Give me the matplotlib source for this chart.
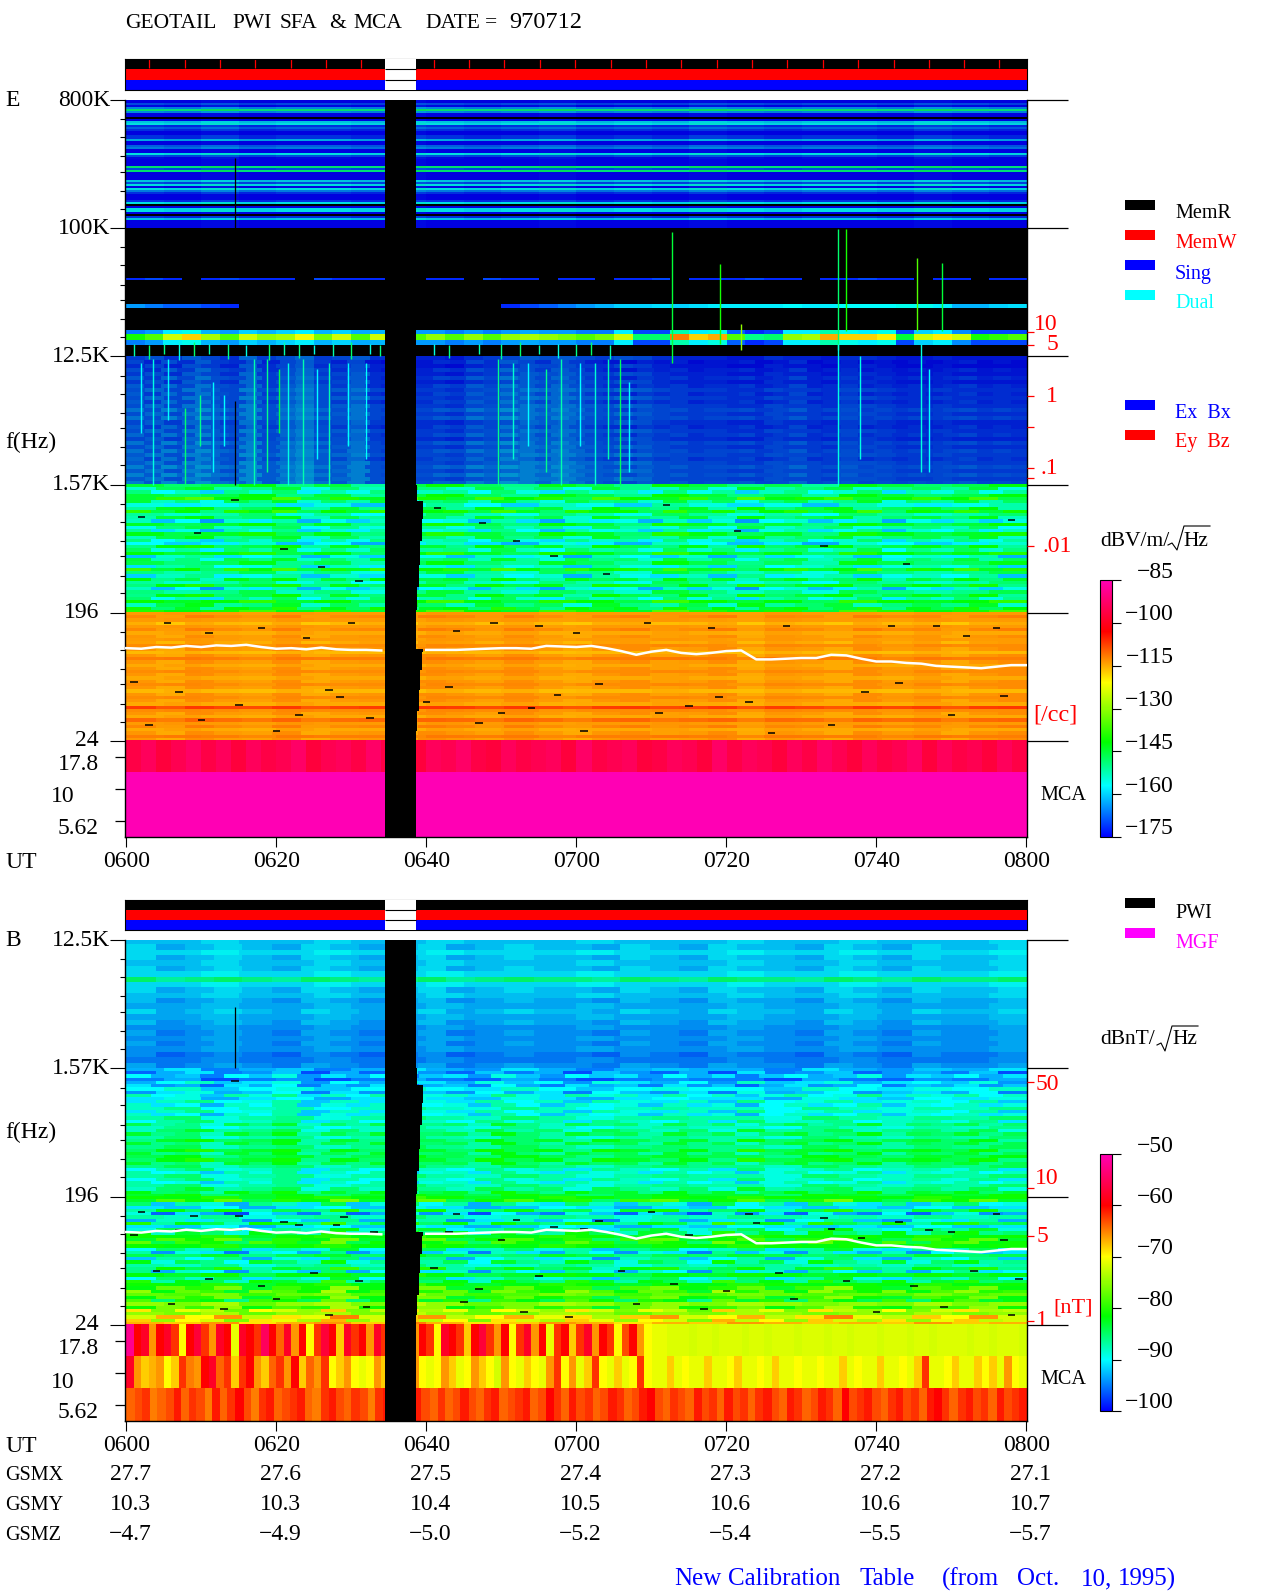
import numpy as np
import matplotlib
matplotlib.use("Agg")
import matplotlib.pyplot as plt
from matplotlib.colors import LinearSegmentedColormap, Normalize
from matplotlib.cm import ScalarMappable

plt.rcParams["font.family"] = ["Liberation Serif", "DejaVu Serif"]
W, H = 1280, 1593
nan = np.nan

# time axis: minutes after 0600
TICK_T = [0, 20, 40, 60, 80, 100, 120]
TICK_LABELS = ["0600", "0620", "0640", "0700", "0720", "0740", "0800"]
GSMX = ["27.7", "27.6", "27.5", "27.4", "27.3", "27.2", "27.1"]
GSMY = ["10.3", "10.3", "10.4", "10.5", "10.6", "10.6", "10.7"]
GSMZ = ["\u22124.7", "\u22124.9", "\u22125.0", "\u22125.2", "\u22125.4", "\u22125.5", "\u22125.7"]
GAP = (34.5, 38.6)
MEMR_TICKS = [3.0, 7.8, 12.5, 17.2, 21.9, 26.6, 31.3, 41.0, 45.7, 50.4, 55.1, 59.8, 64.6,
              69.3, 74.0, 78.7, 83.4, 88.1, 92.9, 97.6, 102.3, 107.0, 111.7, 116.4]

# staircase on the late side of the data gap (band position, end minute)
STAIR_POS = [2.0, 1.87, 1.73, 1.56, 1.37, 1.2, 1.02, 0.9, 0.72, 0.69, 0.55, 0.4, 0.23, 0.08]
STAIR_END = [38.9, 38.8, 39.6, 39.4, 39.2, 39.0, 38.8, 38.6, 38.6, 39.6, 39.4, 39.2, 39.0, 38.8]

# electron density trace, Hz every 2 minutes
TRACE_T = list(range(0, 121, 2))
TRACE_HZ = [108, 107, 110, 109, 112, 110, 113, 112, 114, 110, 107, 108, 106, 109, 106, 105, 105, 104,
            nan, nan, 105, 105, 105, 106, 107, 108, 108, 107, 112, 111, 110, 112, 108, 103, 97, 102, 105,
            100, 98, 100, 103, 104, 90, 90, 91, 92, 92, 97, 96, 91, 87, 87, 85, 84, 81, 80, 79, 78, 80,
            82, 82]

# E panel, dB per row (top to bottom) for each frequency band
E_RF_ROWS = [-176, -176, -170, -175, -165, -150, -165, -176, -176, nan, -176, -160, -158, -172, -168, -172,
             -176, -176, -172, -172, -162, -176, -176, -168, -166, -176, -176, -158, -170, -175, -176, -176,
             -176, -150, -170, -150, -176, -176, -176, -176, -160, -170, -158, -175, -158, -166, -172, -176,
             -176, -176, -172, -158, nan, -176, -158, -158, -176, nan, -172, -160, -176, -176, -176, -176]
E_RF_COLS = [[1, 0, 2, 0, 1, 1, 0, 2, 1, 0, 1, 2, 0, 1, 0, 2, 1, 0, 1, 1, 0, 2, 1, 0]]
E_WAVE_ROWS = [-173, -174, -174, -173, -173, -172, -173, -172, -171, -172, -171, -172, -171, -170, -171, -170,
               -172, -172, -171, -171, -172, -170, -171, -170, -170, -171, -170, -169, -170, -169, -170, -169]
E_WAVE_COLS = [[3, 5, 2, 6, 4, 2, 7, 3, 5, 7, 3, 4, 6, 2, 1, 1, 1, 0, 2, 3, 4, 6, 5, 6, 4, 3, 5, 4, 2, 1, 1, 1,
                0, 0, 2, 1, 1, 0, 2, 2, 1, 0, 0, 1, 0, 0, 0, 0],
               [5, 2, 6, 3, 7, 4, 3, 6, 2, 5, 7, 4, 2, 5, 1, 0, 2, 1, 3, 2, 5, 3, 7, 5, 3, 6, 4, 2, 1, 0, 2, 1,
                2, 0, 1, 1, 2, 0, 1, 3, 0, 1, 2, 0, 1, 0, 1, 0, 1, 2, 0, 1, 0]]
E_LF_ROWS = [-146, -150, -154, -146, -141, -150, -156, -147, -143, -152, -148, -158, -145, -152, -156,
             -144, -149, -154, -158, -146, -152, -143, -157, -150, -147, -155, -142, -150, -156, -147,
             -152, -145, -158, -150, -146, -153, -142, -149, -145, -140]
E_LF_COLS = [[1, -2, 0, 4, -3, 1, -5, 0, 5, -1, -4, 3, 0, -4, 5, 1, -3, 0, -5, 4, 1, -2, 0, 4],
             [-4, 3, 6, -2, 0, 5, -5, 2, -3, 6, 1, -4, 4, -1, 2, -6, 5, 0, -3, 3, -5, 6, -2, 1, 4, -4, 0, 3, -1, 5, -5],
             [5, -3, 1, -6, 4, 0, 6, -4, 2, -2, 5, -5, 1, 3, -3, 6, -1, -5, 4, 0, 2, -4, 5, -2, 3, -6, 1, 4, -3, 0, 6, -5, 2, -1, 5, -2, 3]]
E_VLF_ROWS = [-114, -113, -114, -116, -114, -113, -115, -114, -114, -115, -113, -114, -116, -114,
              -112, -114, -115, -114, -113, -114, -115, -114, -113, -114, -116, -114, -113, -114,
              -115, -108, -113, -114, -115, -111, -114, -113, -115, -114, -112, -114]
E_VLF_COLS = [[0, 0.5, 0, -0.5, 0.5, 0, 0, -0.5, 0.5, 0, 0.5, -0.5, 0, 0, 0.5, 0, -0.5, 0.5, 0, 0, -0.5, 0.5, 0, 0],
              [0.5, -1, 1, 0, -0.5, 1, -1, 0, 0.5, -1, 1, 0.5, -0.5, 1, 0, -1, 0.5, 1, -0.5, 0, 1, -1, 0.5, 0, -1, 1, 0, 0.5, -1, 0.5, 1]]
E_MCA_TOP = [-96, -94, -97, -95, -93, -96, -94, -97, -94, -96, -95, -93, -97, -95, -94, -96, -93, -96,
             -95, -97, -94, -95, -93, -96, -97, -94, -96, -95, -94, -97, -93, -96, -95, -94, -97, -96,
             -94, -95, -97, -93, -96, -94, -95, -97, -94, -96, -93, -95, -97, -94, -96, -95, -93, -97,
             -94, -96, -95, -97, -94, -96]
E_MCA_MID = [-85.0]
E_MCA_LOW = [-85.0]

# E panel 100K-12.5K: weak lines and the plasma line, one value per 2.5 minutes
LINE_43K = [-172, -170, -172, nan, -172, -170, -172, -172, -172, nan, -170, -172, -172, -172, nan, nan,
            -172, -172, nan, -170, -172, -172, nan, -172, -172, nan, -172, -172, -170, nan, -172, -172,
            -172, -170, -172, -172, nan, -172, -172, -170, -172, -172, nan, -172, -172, nan, -172, -172]
LINE_27K = [-164, -166, -168, -168, -170, -172, nan, nan, nan, nan, nan, nan, nan, nan, nan, nan,
            nan, nan, nan, nan, -172, -170, -168, -166, -164, -162, -160, -160, -159, -160, -159, -158,
            -158, -158, -158, -157, -158, -158, -157, -157, -157, -156, -156, -158, -162, -162, -160, -159]
PLASMA_CORE = [-140, -135, -125, -118, -128, -135, -125, -130, -128, -122, -132, -125, -135, -125, -135, -135,
               -130, -135, -130, -135, -130, -128, -130, -132, -135, -132, -125, -148, -148, -112, -118, -115,
               -135, -150, -148, -130, -128, -115, -118, -118, -120, -145, -125, -120, -125, -140, -138, -135]
PLASMA_HALO = [-166, -164, -158, -156, -162, -164, -160, -162, -160, -158, -162, -160, -163, -162, -164, -164,
               -164, -166, -164, -166, -164, -163, -164, -164, -166, -166, -158, -170, -170, -152, -158, -155,
               -168, -172, -170, -158, -158, -152, -156, -158, -156, -170, -160, -158, -165, -170, -170, -170]

# vertical bursts: minute, top and bottom band position, dB
BURST_T = [72.8, 79.2, 94.9, 95.9, 105.4, 108.7, 82.0, 94.9, 97.8, 106.0,
           3.6, 7.8, 9.8, 17.0, 18.7, 20.3, 21.6, 23.6, 25.4, 27.0, 2.0, 5.5, 11.5, 13.0, 29.5, 32.0,
           49.5, 51.5, 53.5, 56.0, 58.0, 60.5, 62.5, 64.2, 65.8, 67.0, 107.0,
           1.0, 3.0, 5.0, 7.0, 9.0, 11.0, 13.5, 16.0, 19.0, 21.0, 23.0, 25.0, 27.5, 30.0, 32.5, 33.8,
           41.0, 43.0, 47.0, 50.0, 52.5, 55.0, 57.5, 60.0, 62.0, 64.5]
BURST_TOP = [3.97, 3.72, 3.99, 3.99, 3.77, 3.73, 3.25, 3.1, 3.0, 3.1,
             2.98, 2.6, 2.7, 2.98, 2.98, 2.9, 2.95, 2.98, 2.9, 2.95, 2.95, 2.98, 2.8, 2.7, 2.95, 2.95,
             2.98, 2.95, 2.95, 2.9, 2.98, 2.95, 2.95, 2.98, 2.98, 2.8, 2.9,
             3.1, 3.09, 3.1, 3.12, 3.11, 3.1, 3.1, 3.09, 3.1, 3.11, 3.1, 3.09, 3.1, 3.11, 3.1, 3.09,
             3.1, 3.09, 3.1, 3.1, 3.11, 3.09, 3.1, 3.1, 3.11, 3.09]
BURST_BOT = [2.95, 3.1, 3.05, 3.2, 3.2, 3.2, 3.05, 2.0, 2.2, 2.1,
             2.0, 2.0, 2.3, 2.0, 2.1, 2.4, 2.0, 2.0, 2.2, 2.0, 2.4, 2.5, 2.1, 2.3, 2.3, 2.2,
             2.0, 2.2, 2.3, 2.1, 2.0, 2.3, 2.0, 2.2, 2.0, 2.1, 2.1,
             3.0, 2.98, 3.02, 2.97, 3.0, 3.02, 2.98, 3.0, 2.97, 3.01, 2.99, 3.02, 3.0, 2.98, 3.02, 3.0,
             3.01, 2.99, 3.02, 2.98, 3.0, 3.02, 2.99, 3.0, 3.01, 2.98]
BURST_DB = [-145, -140, -148, -140, -135, -145, -130, -155, -155, -155,
            -155, -148, -150, -152, -150, -146, -155, -152, -157, -152, -157, -157, -157, -157, -157, -157,
            -150, -154, -157, -150, -152, -157, -154, -152, -147, -157, -157,
            -152, -148, -150, -155, -148, -152, -150, -155, -148, -152, -150, -155, -152, -148, -155, -150,
            -155, -150, -152, -150, -148, -152, -155, -150, -148, -152]

E_DASH_T = [14.5, 2.0, 9.5, 21.0, 26.0, 31.0, 41.5, 47.5, 52.0, 57.0, 64.0, 72.0, 81.5, 93.0, 104.0, 118.0,
            5.5, 11.0, 18.0, 24.0, 30.0, 44.0, 49.0, 55.0, 60.0, 69.5, 78.0, 88.0, 102.0, 108.0, 112.0, 116.0,
            1.0, 7.0, 15.0, 23.0, 28.5, 43.0, 50.0, 57.5, 63.0, 75.0, 83.0, 94.0, 98.5, 103.0, 110.0, 117.0,
            3.0, 10.0, 20.0, 27.0, 32.5, 40.0, 47.0, 54.0, 61.0, 71.0, 79.0, 86.0]
E_DASH_POS = [1.88, 1.75, 1.62, 1.5, 1.36, 1.25, 1.82, 1.7, 1.56, 1.44, 1.3, 1.84, 1.64, 1.52, 1.38, 1.72,
              0.92, 0.84, 0.88, 0.8, 0.92, 0.86, 0.92, 0.9, 0.84, 0.92, 0.88, 0.9, 0.9, 0.9, 0.82, 0.88,
              0.46, 0.38, 0.28, 0.2, 0.34, 0.42, 0.22, 0.36, 0.44, 0.27, 0.3, 0.12, 0.38, 0.45, 0.2, 0.35,
              0.12, 0.16, 0.08, 0.4, 0.18, 0.3, 0.14, 0.26, 0.08, 0.22, 0.34, 0.06]

# B panel
B_WAVE_ROWS = [-92, -92, -91, -92, -92, -92, -91, -86, -91, -92, -92, -93, -93, -92, -93, -93, -94, -94, -94, -94,
               -94, -95, -95, -94]
B_WAVE_COLS = [[0, 0, 1, 0, 0, 1, 0, 0, 1, 0, 0, 0, 1, 0, 0, 0, 1, 0, 0, 1, 0, 0, 0, 1],
               [1, -1, 0, 1, 0, -1, 1, 0, -1, 0, 1, -1, 0, 1, 0, 0, -1, 1, 0, -1, 1, 0, 0, -1, 1, 0, -1, 1, 0, 0, 1]]
B_LF_ROWS = [-93, -94, -92, -95, -91, -93, -90, -92, -89, -91, -89, -90, -88, -89, -90, -87, -88, -86, -88, -86,
             -85, -87, -84, -85, -86, -83, -85, -84, -83, -85, -86, -88, -89, -87, -88, -89, -87, -86, -84, -83]
B_LF_COLS = [[0, 2, -2, 0, 1, -2, 0, 2, 0, -1, 2, 0, -2, 0, 1, 0, 0, -2, 2, 0, -1, 1, 0, 2],
             [-2, 1, 3, -1, 0, 2, -3, 1, -2, 3, 0, -2, 2, -1, 1, -3, 2, 0, -2, 1, -3, 3, -1, 0, 2, -2, 0, 1, -1, 2, -3],
             [2, -1, 0, -3, 2, 0, 3, -2, 1, -1, 2, -3, 0, 1, -2, 3, 0, -2, 2, 0, 1, -2, 2, -1, 1, -3, 0, 2, -1, 0, 3, -2, 1, 0, 2, -1, 1]]
B_VLF_ROWS = [-82, -81, -89, -92, -85, -93, -88, -91, -84, -92, -87, -85, -82, -81, -81, -82, -88, -91, -85, -90,
              -86, -88, -84, -90, -83, -88, -84, -82, -80, -79, -78, -80, -82, -76, -79, -73, -76, -70, -72, -68]
B_VLF_COLS = [[1, 0, 2, -1, 1, 2, 0, 3, 1, -1, 0, 2, 1, -1, 1, 0, 2, 1, 0, 1, 0, 2, 0, 1],
              [-2, 3, 0, 4, -3, 1, -1, 5, -2, 2, 4, -3, 0, 3, -1, 1, -4, 2, 4, -2, 0, 3, -3, 1, 5, -1, -3, 2, 0, 4, -2],
              [4, -3, 2, 0, -4, 3, 1, -2, 5, -3, 0, 4, -1, 2, -4, 3, 0, -2, 4, 1, -3, 2, 0, -4, 5, -1, 2, -3, 4, 0, -2, 3, -3, 1, 4, -1, 0]]
B_MCA_TOP = [-52, -60, -58, -66, -60, -58, -62, -70, -60, -57, -62, -66, -58, -60, -71, -58, -60, -62, -55, -60,
             -64, -58, -66, -60, -70, -62, -57, -60, -68, -58, -62, -60, -66, -58, -62, -70, -60, -58, -66, -60,
             -62, -70, -58, -60, -62, -68, -60, -57, -62, -66, -60, -70, -62, -58, -66, -60, -71, -62, -60, -68,
             -62, -58, -66, -60, -62, -70, -63, -60, -66, -70, -71, -71, -71.5, -71.5, -71.5, -72, -71.5, -71.5, -72, -71.5,
             -71.5, -71.5, -72, -71.5, -71.5, -72, -71.5, -71.5, -71.5, -72, -71.5, -71.5, -71.5, -72, -71.5, -71.5, -72, -71.5, -71.5, -71.5,
             -72, -71.5, -71.5, -71.5, -72, -71.5, -71.5, -72, -71.5, -71.5, -71.5, -71.5, -72, -71.5, -71.5, -72, -71.5, -71.5, -71.5, -72]
B_MCA_MID = [-58, -66, -68, -67, -66, -70, -68, -62, -65, -66, -60, -58, -64, -62, -68, -62, -60, -66, -68, -64,
             -62, -66, -60, -68, -64, -66, -62, -70, -68, -66, -70, -71, -70, -66, -68, -70, -70, -68, -66, -70,
             -71, -70, -66, -68, -71, -70, -66, -68, -70, -72, -66, -70, -71, -68, -70, -71, -66, -62, -70, -66,
             -71, -68, -62, -70, -71, -68, -71, -70, -62, -70, -71, -71, -68, -71, -70, -71, -71, -68, -71, -71,
             -70, -68, -71, -71, -70, -71, -68, -71, -71, -70, -71, -71, -70, -71, -71, -68, -71, -70, -71, -71,
             -68, -71, -71, -70, -71, -68, -62, -71, -71, -70, -68, -71, -71, -68, -70, -68, -71, -66, -70, -71]
B_MCA_LOW = [-64, -63, -62, -65, -64, -63, -61, -64, -62, -63, -65, -61, -64, -62, -60, -63, -65, -62, -61, -64,
             -63, -62, -61, -64, -65, -62, -61, -63, -64, -62, -63, -65, -62, -61, -63, -64, -62, -61, -63, -64,
             -62, -64, -63, -61, -63, -64, -62, -61, -64, -63, -62, -61, -64, -63, -60, -62, -64, -61, -63, -62,
             -64, -63, -61, -62, -64, -63, -61, -60, -63, -64, -62, -63, -64, -61, -63, -62, -64, -61, -63, -62,
             -64, -62, -61, -63, -64, -61, -62, -64, -63, -61, -62, -64, -60, -63, -62, -61,
             -63, -64, -62, -61, -63, -62, -64, -61, -60, -62, -64, -62, -61, -63, -62, -64, -61, -63, -62, -61]
B_DASH_T = [14.5, 2.0, 9.0, 21.0, 28.0, 33.0, 44.0, 52.0, 61.0, 70.0, 84.0, 93.0, 107.0, 116.0,
            1.0, 7.0, 15.0, 23.0, 29.0, 43.0, 50.0, 57.0, 63.0, 75.0, 83.0, 94.0, 98.0, 103.0, 110.0, 117.0,
            4.0, 11.0, 18.0, 25.0, 31.0, 41.0, 47.0, 55.0, 66.0, 73.0, 80.0, 87.0, 96.0, 105.0, 113.0, 119.0,
            6.0, 13.0, 20.0, 27.0, 32.0, 45.0, 53.0, 59.0, 68.0, 77.0, 89.0, 100.0, 109.0, 118.0]
B_DASH_POS = [1.9, 0.88, 0.85, 0.8, 0.78, 0.72, 0.86, 0.82, 0.75, 0.88, 0.79, 0.83, 0.74, 0.86,
              0.7, 0.74, 0.85, 0.78, 0.84, 0.72, 0.66, 0.76, 0.81, 0.7, 0.86, 0.75, 0.68, 0.8, 0.72, 0.66,
              0.42, 0.36, 0.3, 0.4, 0.34, 0.44, 0.28, 0.38, 0.42, 0.32, 0.26, 0.4, 0.34, 0.3, 0.42, 0.36,
              0.16, 0.12, 0.2, 0.08, 0.14, 0.18, 0.1, 0.06, 0.16, 0.12, 0.2, 0.1, 0.14, 0.08]

# red density scales (band position on the panel axis)
E_DENS_POS = [3.19, 3.09, 2.69, 2.45, 2.13, 2.05, 1.52]
E_DENS_TXT = [("10", 1058, 322), ("5", 1058, 343), ("1", 1058, 395), (".1", 1058, 467), (".01", 1072, 545)]
B_DENS_POS = [1.89, 1.07, 0.69, 0.03]
B_DENS_TXT = [("50", 1059, 1082), ("10", 1059, 1177), ("5", 1048, 1235), ("1", 1048, 1319)]

E_CB_TICKS = [-85, -100, -115, -130, -145, -160, -175]
B_CB_TICKS = [-50, -60, -70, -80, -90, -100]
MINOR_FRAC = [0.15, 0.29, 0.44, 0.56, 0.71, 0.85]

CMAP = LinearSegmentedColormap.from_list("pwi", [
    (0.0, "#0000ff"), (0.2, "#00ffff"), (0.37, "#00ff00"), (0.6, "#ffff00"),
    (0.8, "#ff0000"), (1.0, "#ff00b4")], N=256)
CMAP.set_bad("black")
N_COLS = 720


def px_axes(fig, x0, y0, x1, y1):
    return fig.add_axes([x0 / W, 1 - y1 / H, (x1 - x0) / W, (y1 - y0) / H])


def band(rows, col_sets, extent, ax, norm, alpha=1.0):
    # every row takes its column offsets from one of the sets in turn
    arr = np.zeros((len(rows), N_COLS))
    for i, r in enumerate(rows):
        cols = np.array(col_sets[i % len(col_sets)], dtype=float)
        arr[i] = r + cols[np.arange(N_COLS) * len(cols) // N_COLS]
    ax.imshow(arr, extent=extent, origin="upper", aspect="auto", cmap=CMAP, norm=norm,
              interpolation="nearest", alpha=alpha)


def strip(values, y0, y1, ax, norm):
    arr = np.ma.masked_invalid(np.array(values, dtype=float)[None, :])
    cm = CMAP.copy()
    cm.set_bad((0, 0, 0, 0))
    ax.imshow(arr, extent=(0, 120, y0, y1), origin="upper", aspect="auto", cmap=cm, norm=norm,
              interpolation="nearest")


def dens_pos(hz):
    return np.log2(np.array(hz, dtype=float) / 24.0) / 3.0


def draw_common(ax, ytop):
    ax.set_xlim(-0.17, 120.03)
    ax.set_ylim(-0.75, ytop)
    ax.set_facecolor("black")
    # data gap with its staircase
    ax.fill_betweenx([-0.75, ytop], GAP[0], GAP[1], color="black", zorder=5, lw=0)
    ax.fill_betweenx(STAIR_POS, GAP[0], STAIR_END, color="black", zorder=5, lw=0, step="pre")
    ax.plot(TRACE_T, dens_pos(TRACE_HZ), color="white", lw=1.8, zorder=6)
    ax.set_xticks(TICK_T)
    ax.set_xticklabels(TICK_LABELS, fontsize=17)
    ax.tick_params(axis="x", length=7.2, width=0.8, pad=3)
    major = list(range(0, int(ytop) + 1))
    ax.set_yticks(major)
    ax.set_yticklabels([])
    minor = [m + f for m in major[:-1] for f in MINOR_FRAC]
    ax.set_yticks(minor, minor=True)
    ax.tick_params(axis="y", which="major", length=10.8, width=0.8)
    ax.tick_params(axis="y", which="minor", length=3.6, width=0.8)
    ax.hlines(major, 120.03, 125.5, color="black", lw=0.9, clip_on=False, zorder=7)
    ax.hlines([-0.125, -0.375, -0.625], -1.5, -0.17, color="black", lw=0.9, clip_on=False)
    ax.spines["top"].set_visible(False)
    for s in ["left", "right", "bottom"]:
        ax.spines[s].set_linewidth(1.0)


def status_bars(fig, y0, y1, with_ticks):
    ax = px_axes(fig, 125, y0, 1026.5, y1)
    ax.set_xlim(-0.17, 120.03)
    ax.set_ylim(0, 3)
    ax.barh([2.5, 1.5, 0.5], 120.3, left=-0.17, height=1, color=["black", "red", "#0000ff"], lw=0)
    ax.barh([1.5], GAP[1] - GAP[0], left=GAP[0], height=3, color="white", lw=0, zorder=3)
    ax.hlines([1, 2], GAP[0], GAP[1], color="black", lw=0.8, zorder=4)
    if with_ticks:
        ax.vlines(MEMR_TICKS, 2.15, 3, color="red", lw=0.9)
    ax.set_xticks([])
    ax.set_yticks([])
    for s in ax.spines.values():
        s.set_linewidth(0.8)


def colorbar(fig, y0, y1, vmin, vmax, ticks):
    cax = px_axes(fig, 1100, y0, 1112, y1)
    cb = fig.colorbar(ScalarMappable(Normalize(vmin, vmax), CMAP), cax=cax)
    cb.set_ticks(ticks)
    cb.set_ticklabels([])
    cax.tick_params(axis="y", length=6.5, width=0.8)
    cb.outline.set_linewidth(0.8)


fig = plt.figure(figsize=(W / 100, H / 100), dpi=100, facecolor="white")

status_bars(fig, 59, 90, True)
status_bars(fig, 900, 930, False)

# ---- E panel
ax_e = px_axes(fig, 125, 100, 1026.5, 837)
norm_e = Normalize(-175, -85)
band(E_RF_ROWS, E_RF_COLS, (0, 120, 4, 5), ax_e, norm_e, alpha=0.88)
band(E_WAVE_ROWS, E_WAVE_COLS, (0, 120, 2, 3), ax_e, norm_e, alpha=0.82)
band(E_LF_ROWS, E_LF_COLS, (0, 120, 1, 2), ax_e, norm_e)
band(E_VLF_ROWS, E_VLF_COLS, (0, 120, 0, 1), ax_e, norm_e)
band([0.0], [E_MCA_TOP], (0, 120, -0.25, 0), ax_e, norm_e)
band([0.0], [E_MCA_MID], (0, 120, -0.5, -0.25), ax_e, norm_e)
band([0.0], [E_MCA_LOW], (0, 120, -0.75, -0.5), ax_e, norm_e)
strip(LINE_43K, 3.595, 3.61, ax_e, norm_e)
strip(LINE_27K, 3.375, 3.405, ax_e, norm_e)
strip(PLASMA_HALO, 3.09, 3.2, ax_e, norm_e)
strip(PLASMA_CORE, 3.125, 3.17, ax_e, norm_e)
ax_e.vlines(BURST_T, BURST_BOT, BURST_TOP, colors=CMAP(norm_e(BURST_DB)), lw=1.0, zorder=4)
ax_e.vlines([14.5, 14.5], [2.0, 4.0], [2.65, 4.55], color="black", lw=0.9, zorder=4)
ax_e.hlines(E_DASH_POS, np.array(E_DASH_T) - 0.5, np.array(E_DASH_T) + 0.5, color="black", lw=1.1, zorder=4)
draw_common(ax_e, 5)

ax_er = ax_e.twinx()
ax_er.set_ylim(-0.75, 5)
ax_er.set_yticks(E_DENS_POS)
ax_er.set_yticklabels([])
ax_er.tick_params(axis="y", color="red", length=5, width=0.9)
ax_er.spines[:].set_visible(False)

# ---- B panel
ax_b = px_axes(fig, 125, 940, 1026.5, 1421)
norm_b = Normalize(-100, -50)
band(B_WAVE_ROWS, B_WAVE_COLS, (0, 120, 2, 3), ax_b, norm_b, alpha=0.95)
band(B_LF_ROWS, B_LF_COLS, (0, 120, 1, 2), ax_b, norm_b)
band(B_VLF_ROWS, B_VLF_COLS, (0, 120, 0, 1), ax_b, norm_b)
band([0.0], [B_MCA_TOP], (0, 120, -0.25, 0), ax_b, norm_b)
band([0.0], [B_MCA_MID], (0, 120, -0.5, -0.25), ax_b, norm_b)
band([0.0], [B_MCA_LOW], (0, 120, -0.75, -0.5), ax_b, norm_b)
ax_b.vlines([14.5], [2.0], [2.48], color="black", lw=0.9, zorder=4)
ax_b.hlines(B_DASH_POS, np.array(B_DASH_T) - 0.5, np.array(B_DASH_T) + 0.5, color="black", lw=1.1, zorder=4)
draw_common(ax_b, 3)

ax_br = ax_b.twinx()
ax_br.set_ylim(-0.75, 3)
ax_br.set_yticks(B_DENS_POS)
ax_br.set_yticklabels([])
ax_br.tick_params(axis="y", color="red", length=5, width=0.9)
ax_br.spines[:].set_visible(False)

colorbar(fig, 580, 837, -175, -85, E_CB_TICKS)
colorbar(fig, 1154, 1411, -100, -50, B_CB_TICKS)

# ---- overlay in pixel coordinates for all labels
ov = fig.add_axes([0, 0, 1, 1], zorder=-1)
ov.set_xlim(0, W)
ov.set_ylim(H, 0)
ov.axis("off")


def label(x, y, s, size=17, color="black", ha="left", **kw):
    ov.text(x, y + 2, s, fontsize=size, color=color, ha=ha, va="center", **kw)


for x, s in [(125, "GEOTAIL"), (232, "PWI"), (280, "SFA"), (329, "&"), (353, "MCA"), (425, "DATE"),
             (485, "=")]:
    label(x, 21, s, size=15.5)
label(509, 21, "970712", size=17.5)

for s, y in [("E", 98), ("B", 938)]:
    label(5, y, s)
for y in [440, 1130]:
    label(5, y, "f(Hz)")
for y in [860, 1445]:
    label(5, y, "UT")
for s, y in [("GSMX", 1473), ("GSMY", 1503), ("GSMZ", 1533)]:
    label(5, y, s, size=14.5)

for s, y in [("800K", 98), ("100K", 227), ("12.5K", 355), ("1.57K", 483), ("196", 611), ("24", 738),
             ("17.8", 763), ("5.62", 827)]:
    label(110 if "K" in s else 99, y, s, ha="right")
label(75, 795, "10", ha="right")
for s, y in [("12.5K", 939), ("1.57K", 1067), ("196", 1195), ("24", 1323), ("17.8", 1347), ("5.62", 1411)]:
    label(110 if "K" in s else 99, y, s, ha="right")
label(75, 1380, "10", ha="right")

for i, t in enumerate(TICK_T):
    x = 126.3 + 7.5 * t + 4
    label(x, 1473, GSMX[i], ha="center")
    label(x, 1503, GSMY[i], ha="center")
    label(x, 1533, GSMZ[i], ha="center")

for x, s in [(674, "New"), (728, "Calibration"), (860, "Table"), (942, "(from"), (1017, "Oct."),
             (1081, "10,"), (1118, "1995)")]:
    label(x, 1577, s, size=18, color="#0000ff")

# legend keys
for y, c, s, tc, ty in [(205, "black", "MemR", "black", 211), (235, "red", "MemW", "red", 241),
                        (265, "#0000ff", "Sing", "#0000ff", 272), (295, "cyan", "Dual", "cyan", 302),
                        (405, "#0000ff", "Ex  Bx", "#0000ff", 411), (435, "red", "Ey  Bz", "red", 441),
                        (903, "black", "PWI", "black", 912), (933, "magenta", "MGF", "magenta", 941)]:
    ov.fill_between([1125, 1155], y - 5, y + 5, color=c, lw=0)
    label(1175, ty, s, size=14.5, color=tc)

# colour bar numbers sit a little above their ticks
for ticks, y0, y1 in [(E_CB_TICKS, 580, 837), (B_CB_TICKS, 1154, 1411)]:
    for t in ticks:
        y = y0 + (ticks[0] - t) / (ticks[0] - ticks[-1]) * (y1 - y0)
        label(1174, y - 10, str(t).replace("-", "\u2212"), ha="right")

for s, x, y in E_DENS_TXT + B_DENS_TXT:
    label(x, y, s, color="red", ha="right", bbox=dict(fc="white", ec="none", pad=0))
label(1033, 713, "[/cc]", size=17.5, color="red")
label(1053, 1306, "[nT]", size=16, color="red")
label(1040, 793, "MCA", size=14.5)
label(1040, 1377, "MCA", size=14.5)

label(1100, 540, "dBV/m/", size=15.5)
label(1183, 540, "Hz", size=15.5)
ov.plot([1168, 1172, 1177, 1184, 1210], [545, 543, 550, 526, 526], color="black", lw=0.8)
label(1100, 1038, "dBnT/", size=15.5)
label(1172, 1038, "Hz", size=15.5)
ov.plot([1157, 1161, 1165, 1172, 1198], [1045, 1043, 1051, 1026, 1026], color="black", lw=0.8)

fig.savefig("out.png", dpi=100, facecolor="white")
